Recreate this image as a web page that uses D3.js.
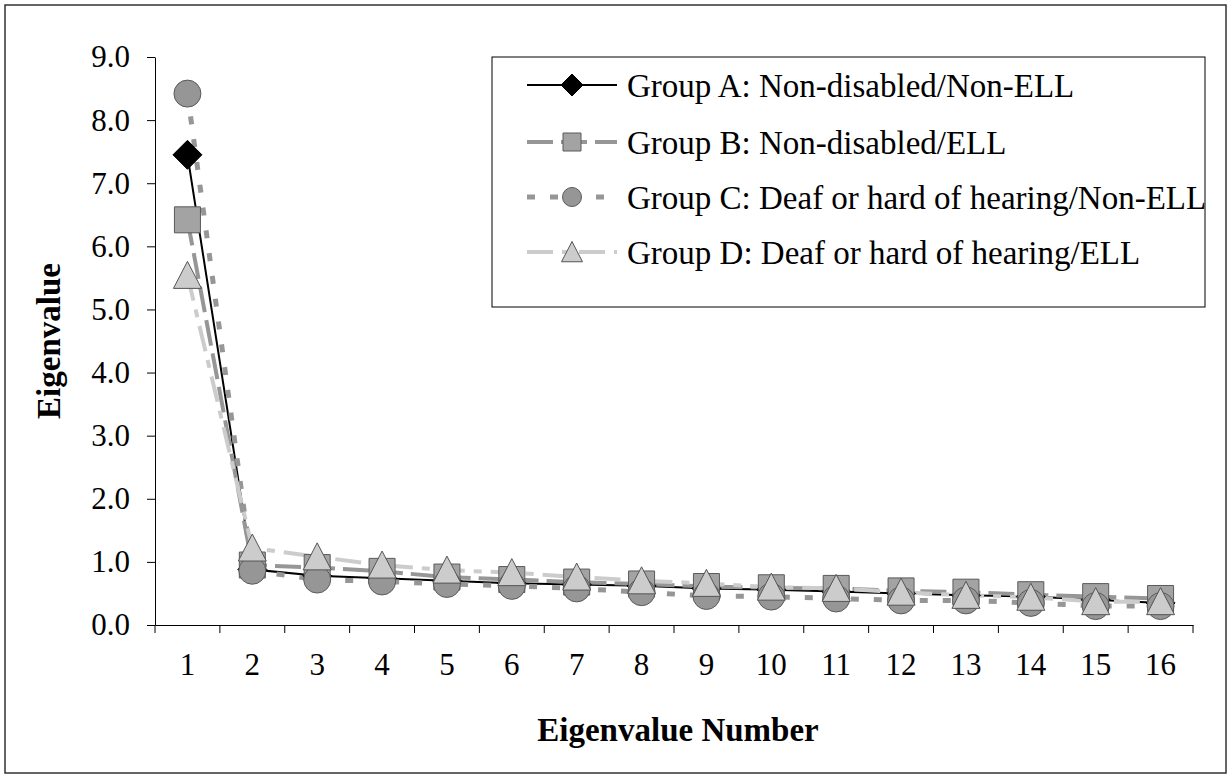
<!DOCTYPE html>
<html><head><meta charset="utf-8">
<script src="https://cdn.jsdelivr.net/npm/d3@7"></script>
<style>
html,body{margin:0;padding:0;background:#fff;}
svg text{font-family:"Liberation Serif","Times New Roman",serif;}
</style></head>
<body>
<svg id="chart" width="1231" height="778"></svg>
<script>
const categories = ["1","2","3","4","5","6","7","8","9","10","11","12","13","14","15","16"];
const groupA = [7.45,0.88,0.78,0.74,0.70,0.66,0.64,0.62,0.58,0.56,0.53,0.50,0.47,0.45,0.40,0.35];
const groupB = [6.42,0.95,0.91,0.85,0.76,0.72,0.68,0.65,0.61,0.59,0.58,0.54,0.52,0.48,0.45,0.42];
const groupC = [8.42,0.86,0.72,0.69,0.65,0.62,0.58,0.52,0.46,0.45,0.42,0.39,0.39,0.35,0.30,0.30];
const groupD = [5.54,1.22,1.08,0.95,0.87,0.83,0.76,0.70,0.66,0.60,0.58,0.52,0.47,0.44,0.37,0.37];
const seriesNames = ["Group A: Non-disabled/Non-ELL","Group B: Non-disabled/ELL","Group C: Deaf or hard of hearing/Non-ELL","Group D: Deaf or hard of hearing/ELL"];
const yTicks = [0,1,2,3,4,5,6,7,8,9];

const styles = [
  {line:"#000", width:2, dash:null, marker:"diamond", fill:"#000", stroke:"#000", size:29, lsize:22},
  {line:"#969696", width:4, dash:"26,8", marker:"square", fill:"#a3a3a3", stroke:"#5a5a5a", size:26, lsize:18},
  {line:"#969696", width:5, dash:"8,15", marker:"circle", fill:"#969696", stroke:"#5a5a5a", size:27, lsize:19},
  {line:"#cccccc", width:4, dash:"26,9,8,9", marker:"triangle", fill:"#cccccc", stroke:"#555", size:28, lsize:21}
];
const data = [groupA, groupB, groupC, groupD];

const svg = d3.select("#chart");
svg.append("rect").attr("x",5).attr("y",5).attr("width",1221).attr("height",768)
  .attr("fill","#fff").attr("stroke","#333").attr("stroke-width",1.5);

const x = d3.scaleBand().domain(categories).range([155,1193]);
const y = d3.scaleLinear().domain([0,9]).range([625,57]);
const cx = d => x(d) + x.bandwidth()/2;

function markerPath(type, s){
  const h = s/2;
  if(type==="diamond") return `M0,${-h}L${h},0L0,${h}L${-h},0Z`;
  if(type==="square") return `M${-h},${-h}H${h}V${h}H${-h}Z`;
  if(type==="triangle") return `M0,${-h}L${h},${h*0.93}L${-h},${h*0.93}Z`;
  return d3.arc()({innerRadius:0,outerRadius:h,startAngle:0,endAngle:2*Math.PI});
}

// axes
const yAxis = d3.axisLeft(y).tickValues(yTicks).tickFormat(d3.format(".1f")).tickSize(8).tickSizeOuter(0);
const gy = svg.append("g").attr("transform","translate(155,0)").call(yAxis);
gy.select(".domain").attr("stroke","#000");
gy.selectAll(".tick line").attr("stroke","#000");
gy.selectAll(".tick text").attr("x",-25).attr("font-size",31).attr("fill","#000").attr("font-family","Liberation Serif");

const xAxis = d3.axisBottom(x).tickSize(0).tickSizeOuter(0);
const gx = svg.append("g").attr("transform","translate(0,625)").call(xAxis);
gx.select(".domain").attr("stroke","#000");
gx.selectAll(".tick text").attr("y",28).attr("font-size",31).attr("fill","#000").attr("font-family","Liberation Serif");
// boundary ticks
const bounds = categories.map(c=>x(c)).concat([x(categories[categories.length-1])+x.bandwidth()]);
gx.selectAll(".btick").data(bounds).enter().append("line")
  .attr("x1",d=>d).attr("x2",d=>d).attr("y1",0).attr("y2",8).attr("stroke","#000");

// lines
const lineGen = d3.line().x((d,i)=>cx(categories[i])).y(d=>y(d));
data.forEach((vals,si)=>{
  const st = styles[si];
  svg.append("path").attr("d",lineGen(vals)).attr("fill","none")
    .attr("stroke",st.line).attr("stroke-width",st.width)
    .attr("stroke-dasharray",st.dash);
});
// markers
data.forEach((vals,si)=>{
  const st = styles[si];
  svg.append("g").selectAll("path").data(vals).enter().append("path")
    .attr("d",markerPath(st.marker, st.size))
    .attr("transform",(d,i)=>`translate(${cx(categories[i])},${y(d)})`)
    .attr("fill",st.fill).attr("stroke",st.stroke).attr("stroke-width",1);
});

// legend
const lg = svg.append("g");
lg.append("rect").attr("x",492).attr("y",57).attr("width",713).attr("height",250)
  .attr("fill","#fff").attr("stroke","#000").attr("stroke-width",1);
const rowY = [85,142,197,252];
seriesNames.forEach((name,i)=>{
  const st = styles[i];
  const r = lg.append("g").attr("transform",`translate(0,${rowY[i]})`);
  r.append("line").attr("x1",527).attr("x2",617).attr("y1",0).attr("y2",0)
    .attr("stroke",st.line).attr("stroke-width",st.width).attr("stroke-dasharray",st.dash);
  r.append("path").attr("d",markerPath(st.marker, st.lsize)).attr("transform","translate(572,0)")
    .attr("fill",st.fill).attr("stroke",st.stroke).attr("stroke-width",1);
  r.append("text").attr("x",627).attr("y",0).attr("dy","0.35em").attr("font-size",33)
    .attr("fill","#000").text(name);
});

// titles
svg.append("text").attr("x",678).attr("y",741).attr("text-anchor","middle")
  .attr("font-size",33).attr("font-weight","bold").text("Eigenvalue Number");
svg.append("text").attr("transform","translate(60,341) rotate(-90)").attr("text-anchor","middle")
  .attr("font-size",33).attr("font-weight","bold").text("Eigenvalue");
</script>
</body></html>
